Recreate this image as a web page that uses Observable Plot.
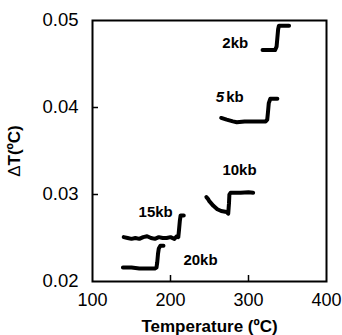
<!DOCTYPE html>
<html>
<head>
<meta charset="utf-8">
<script src="https://cdn.jsdelivr.net/npm/d3@7"></script>
<script src="https://cdn.jsdelivr.net/npm/@observablehq/plot@0.6"></script>
<style>
  body { margin: 0; background: #fff; }
  #chart svg { display: block; }
</style>
</head>
<body>
<div id="chart"></div>
<script>
// Series: temperature (°C) and ΔT (°C)
const kb2T  = [318, 326, 334, 336, 337, 338, 339, 345, 352];
const kb2dT = [0.0466, 0.0466, 0.0466, 0.0470, 0.0480, 0.0490, 0.0494, 0.0494, 0.0494];

const kb5T  = [265, 272, 280, 285, 295, 310, 322, 324, 325, 326, 328, 337];
const kb5dT = [0.0388, 0.0386, 0.0384, 0.0383, 0.0384, 0.0384, 0.0384, 0.0386, 0.0395, 0.0405, 0.0410, 0.0410];

const kb10T  = [246, 248, 250, 255, 260, 265, 272, 274, 275, 275.5, 277, 290, 300, 306];
const kb10dT = [0.0297, 0.0295, 0.0292, 0.0287, 0.0283, 0.0281, 0.0280, 0.0278, 0.0290, 0.0300, 0.0302, 0.0302, 0.03025, 0.0302];

const kb15T  = [140, 145, 150, 155, 160, 165, 170, 175, 180, 185, 190, 195, 200, 205, 208, 210, 211, 212, 213, 217];
const kb15dT = [0.0251, 0.0250, 0.0249, 0.0250, 0.0249, 0.0251, 0.0252, 0.0250, 0.0249, 0.0251, 0.0250, 0.0250, 0.0251, 0.0249, 0.0252, 0.0251, 0.0260, 0.0270, 0.0276, 0.0276];

const kb20T  = [139, 150, 160, 170, 180, 182, 183, 184, 185, 187, 191];
const kb20dT = [0.0216, 0.0216, 0.0215, 0.0215, 0.0215, 0.0216, 0.0222, 0.0232, 0.0238, 0.0241, 0.0241];

// Pressure labels and where they sit (data units)
const labelText = ["2kb", "5kb", "10kb", "15kb", "20kb"];
const labelT    = [283, 276, 288.5, 181, 238.5];
const labelDT   = [0.04736, 0.04115, 0.03276, 0.02793, 0.02241];

const xTicks = [100, 200, 300, 400];
const yTicks = [0.02, 0.03, 0.04, 0.05];
const xInnerTicks = [200, 300];
const yInnerTicks = [0.03, 0.04];

const seriesT  = [kb2T, kb5T, kb10T, kb15T, kb20T];
const seriesDT = [kb2dT, kb5dT, kb10dT, kb15dT, kb20dT];
const points = seriesT.flatMap((ts, i) => ts.map((t, j) => ({series: labelText[i], t, dT: seriesDT[i][j]})));
const labels = labelText.map((s, i) => ({s, t: labelT[i], dT: labelDT[i]}));

const fontFam = "'Liberation Sans', Arial, Helvetica, sans-serif";

const chart = Plot.plot({
  width: 342,
  height: 335,
  marginLeft: 92,
  marginRight: 16,
  marginTop: 20,
  marginBottom: 54,
  style: {fontFamily: fontFam, background: "#fff", color: "#000"},
  x: {domain: [100, 400]},
  y: {domain: [0.02, 0.05]},
  marks: [
    Plot.frame({stroke: "#000", strokeWidth: 2}),
    Plot.axisX({ticks: xTicks, tickSize: 0, tickPadding: 12, fontSize: 18, tickFormat: d3.format("d"),
      label: "Temperature (ºC)", labelAnchor: "center", labelOffset: 50, labelArrow: false}),
    Plot.axisX({ticks: xInnerTicks, tickSize: -6, text: null, label: null, strokeWidth: 1.5}),
    Plot.axisY({ticks: yTicks, tickSize: 0, tickPadding: 14, fontSize: 18.5, tickFormat: d3.format(".2f"),
      label: "ΔT(ºC)", labelAnchor: "center", labelOffset: 85, labelArrow: false}),
    Plot.axisY({ticks: yInnerTicks, tickSize: -6, text: null, label: null, strokeWidth: 1.5}),
    Plot.line(points, {x: "t", y: "dT", z: "series", stroke: "#000", strokeWidth: 4, strokeLinejoin: "round", curve: "linear"}),
    Plot.text(labels, {x: "t", y: "dT", text: "s", fontSize: 15, fontWeight: "bold", fill: "#000"})
  ]
});

// Bold axis titles
chart.querySelectorAll("[aria-label='x-axis label'] text, [aria-label='y-axis label'] text").forEach(t => {
  t.setAttribute("font-weight", "bold");
  t.setAttribute("font-size", "17");
});
// Δ in regular weight on the y title
chart.querySelectorAll("[aria-label='y-axis label'] text").forEach(t => {
  const txt = t.textContent;
  if (txt.startsWith("Δ")) {
    t.textContent = "";
    const a = document.createElementNS("http://www.w3.org/2000/svg", "tspan");
    a.setAttribute("font-weight", "normal");
    a.textContent = "Δ";
    const b = document.createElementNS("http://www.w3.org/2000/svg", "tspan");
    b.textContent = txt.slice(1);
    t.append(a, b);
  }
});
// italic "5" in the 5 kb label
chart.querySelectorAll("[aria-label='text'] text").forEach(t => {
  if (t.textContent === "5kb") {
    t.textContent = "";
    const a = document.createElementNS("http://www.w3.org/2000/svg", "tspan");
    a.setAttribute("font-style", "italic");
    a.textContent = "5";
    const b = document.createElementNS("http://www.w3.org/2000/svg", "tspan");
    b.setAttribute("dx", "2");
    b.textContent = "kb";
    t.append(a, b);
  }
});
document.getElementById("chart").appendChild(chart);
</script>
</body>
</html>
